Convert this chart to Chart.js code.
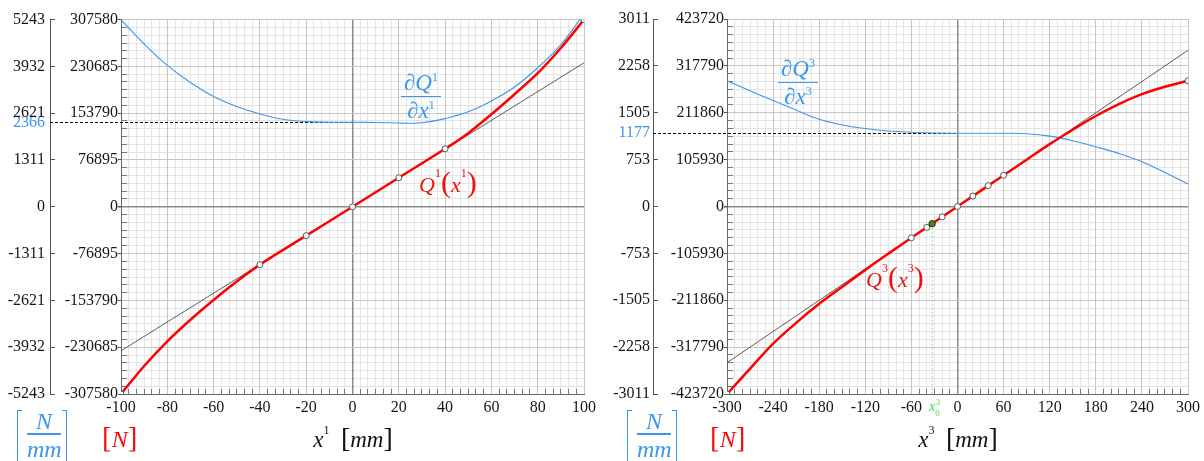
<!DOCTYPE html>
<html>
<head>
<meta charset="utf-8">
<script src="https://cdn.jsdelivr.net/npm/chart.js@4.4.0/dist/chart.umd.min.js"></script>
<style>
  body { margin: 0; background: #fff; }
  #wrap { position: relative; width: 1204px; height: 461px; overflow: hidden; font-family: "Liberation Serif", serif; }
  canvas { position: absolute; top: 0; }
  .t { position: absolute; white-space: nowrap; line-height: 1; }
  .frac { font-size: 23px; font-style: italic; text-align: center; color: #3a96ee; }
  .frac .num { border-bottom: 1.5px solid #3a96ee; padding: 0 3px 2px; }
  .frac .den { padding-top: 2px; }
  .sup { font-size: 12px; font-style: normal; vertical-align: top; }
  .fn { font-size: 22px; font-style: italic; color: #f01010; }
  .par { font-size: 30px; font-style: normal; }
  .brk { position: absolute; width: 4px; height: 62px; border: 1.5px solid #3a96ee; }
  .brk.l { border-right: none; border-bottom: none; }
  .brk.r { border-left: none; border-bottom: none; }
  .unitN { font-size: 24px; font-style: italic; color: #3a96ee; text-align: center; width: 34px; }
  .bar { position: absolute; height: 1.5px; width: 34px; background: #3a96ee; }
  .red { font-size: 24px; color: #f01010; }
  .red i { font-size: 24px; }
  .red .b { font-size: 29px; }
  .ttl { font-size: 23px; color: #111; transform: translateX(-50%); }
  .ttl .b { font-size: 28px; }
  .x0 { font-size: 14px; color: #44dd44; font-style: italic; }
</style>
</head>
<body>
<div id="wrap">
  <canvas id="c1" width="600" height="461" style="left:0"></canvas>
  <canvas id="c3" width="604" height="461" style="left:600px"></canvas>

  <div class="t frac" style="left:401px;top:71px"><div class="num">∂Q<span class="sup">1</span></div><div class="den">∂x<span class="sup">1</span></div></div>
  <div class="t fn" style="left:419px;top:167px">Q<span class="sup">1</span><span class="par">(</span>x<span class="sup">1</span><span class="par">)</span></div>

  <div class="t frac" style="left:778px;top:57px"><div class="num">∂Q<span class="sup">3</span></div><div class="den">∂x<span class="sup">3</span></div></div>
  <div class="t fn" style="left:866px;top:262px">Q<span class="sup">3</span><span class="par">(</span>x<span class="sup">3</span><span class="par">)</span></div>

  <div class="brk l" style="left:17px;top:410px"></div>
  <div class="brk r" style="left:62px;top:410px"></div>
  <div class="t unitN" style="left:27px;top:409px">N</div>
  <div class="bar" style="left:27px;top:433px"></div>
  <div class="t unitN" style="left:27px;top:437px">mm</div>
  <div class="t red" style="left:102px;top:423px"><span class="b">[</span><i>N</i><span class="b">]</span></div>
  <div class="t ttl" style="left:353px;top:424px"><i>x</i><span class="sup">1</span>&nbsp; <span class="b">[</span><i>mm</i><span class="b">]</span></div>

  <div class="brk l" style="left:627px;top:410px"></div>
  <div class="brk r" style="left:672px;top:410px"></div>
  <div class="t unitN" style="left:637px;top:409px">N</div>
  <div class="bar" style="left:637px;top:433px"></div>
  <div class="t unitN" style="left:637px;top:437px">mm</div>
  <div class="t red" style="left:710px;top:423px"><span class="b">[</span><i>N</i><span class="b">]</span></div>
  <div class="t ttl" style="left:958px;top:424px"><i>x</i><span class="sup">3</span>&nbsp; <span class="b">[</span><i>mm</i><span class="b">]</span></div>

  <div class="t x0" style="left:929px;top:400px">x<span style="font-size:9px;font-style:normal;position:relative;top:5px">0</span><span style="font-size:9px;font-style:normal;position:relative;top:-6px;left:-4px">3</span></div>
</div>

<script>
// ---- left panel: Q1(x1) ----
const xTicks1    = [-100, -80, -60, -40, -20, 0, 20, 40, 60, 80, 100];
const yInTicks1  = [-307580, -230685, -153790, -76895, 0, 76895, 153790, 230685, 307580];
const yOutTicks1 = [-5243, -3932, -2621, -1311, 0, 1311, 2621, 3932, 5243];
const slope1 = 2366;

const q1X = [-100, -90, -80, -70, -60, -50, -40, -20, 0, 20, 40, 50, 60, 70, 80, 90, 100];
const q1Y = [-307580, -261500, -221000, -185500, -153000, -122800, -95000, -47400, 0,
             47700, 95300, 121000, 152000, 185000, 219500, 261000, 307580];
const q1Nodes = [-100, -40, -20, 0, 20, 40, 100];

const dq1X = [-100, -90, -80, -70, -60, -50, -40, -30, -20, -10, 0, 10, 20, 25, 30, 40, 50, 60, 70, 80, 90, 100];
const dq1Y = [5243, 4560, 3960, 3480, 3090, 2810, 2600, 2450, 2385, 2370, 2366, 2360, 2345, 2340, 2352,
              2470, 2660, 2965, 3355, 3895, 4545, 5400];

const tan1X = [-100, 100];
const tan1Y = [-236600, 236600];

// ---- right panel: Q3(x3) ----
const xTicks3    = [-300, -240, -180, -120, -60, 0, 60, 120, 180, 240, 300];
const yInTicks3  = [-423720, -317790, -211860, -105930, 0, 105930, 211860, 317790, 423720];
const yOutTicks3 = [-3011, -2258, -1505, -753, 0, 753, 1505, 2258, 3011];
const slope3 = 1177;

const q3X = [-300, -270, -240, -210, -180, -150, -120, -90, -60, -40, -33, -20, 0,
             20, 40, 60, 90, 120, 150, 180, 210, 240, 270, 300];
const q3Y = [-423720, -366500, -310000, -263000, -220000, -181500, -143200, -106500, -70600, -47100, -38800, -23500, 0,
             23500, 47100, 70600, 105800, 141000, 173500, 204500, 231500, 253800, 270500, 284000];
const q3Nodes = [-300, -60, -40, -20, 0, 20, 40, 60, 300];
const x03 = -33;

const dq3X = [-300, -270, -240, -210, -180, -150, -120, -90, -60, -30, 0, 30, 60, 90, 120, 150, 180, 210, 240, 270, 300];
const dq3Y = [2018, 1858, 1702, 1548, 1400, 1310, 1252, 1212, 1192, 1180, 1177, 1177, 1176, 1168,
              1130, 1057, 960, 853, 720, 546, 362];

const tan3X = [-300, 300];
const tan3Y = [-353100, 353100];

const RED = "#ff0000", BLUE = "#3a96ee", TXT = "#161616";
Chart.defaults.font.family = "Liberation Serif";
const FONT = { family: "Liberation Serif", size: 16 };

const pts = (xs, ys) => xs.map((x, i) => ({ x: x, y: ys[i] }));

// dashed slope marker from the outer axis to x = 0
const guidePlugin = {
    id: "guide",
    beforeDatasetsDraw(chart, args, opts) {
        const { ctx, scales } = chart;
        const y = Math.round(scales.yOut.getPixelForValue(opts.slope)) + 0.5;
        ctx.save();
        ctx.setLineDash([3, 2]);
        ctx.strokeStyle = "#000";
        ctx.lineWidth = 1;
        ctx.beginPath();
        ctx.moveTo(scales.yOut.right, y);
        ctx.lineTo(scales.x.getPixelForValue(0), y);
        ctx.stroke();
        ctx.restore();
    }
};

function makeChart(id, d) {
    const xMin = d.xTicks[0], xMax = d.xTicks[d.xTicks.length - 1];
    const yMax = d.yInTicks[d.yInTicks.length - 1];
    const oMax = d.yOutTicks[d.yOutTicks.length - 1];
    const minorColor = c => (c.index % 6 === 0 ? "rgba(0,0,0,0)" : "#e4e4e4");
    const majorColor = c => (c.tick && c.tick.value === 0 ? "#8c8c8c" : "#c6c6c6");
    const majorWidth = c => (c.tick && c.tick.value === 0 ? 1.5 : 1);

    const datasets = (d.extra || []).concat([
        {
            data: d.nodes.map(x => ({ x: x, y: d.qY[d.qX.indexOf(x)] })),
            showLine: false, pointRadius: 3, pointBackgroundColor: "#fff",
            pointBorderColor: "#555", pointBorderWidth: 1
        },
        {
            data: pts(d.qX, d.qY), borderColor: RED, borderWidth: 2.5,
            pointRadius: 0, tension: 0.35
        },
        {
            data: pts(d.dX, d.dY), yAxisID: "yOut", borderColor: BLUE, borderWidth: 1.1,
            pointRadius: 0, tension: 0.4
        },
        {
            data: pts(d.tX, d.tY), borderColor: "#333", borderWidth: 0.8, pointRadius: 0
        }
    ]);
    datasets.forEach(ds => {
        ds.xAxisID = "x";
        if (!ds.yAxisID) ds.yAxisID = "yIn";
    });

    return new Chart(document.getElementById(id), {
        type: "line",
        data: { datasets: datasets },
        plugins: [guidePlugin],
        options: {
            responsive: false,
            animation: false,
            events: [],
            layout: { padding: { top: 19, right: d.padR, bottom: 42, left: 0 } },
            plugins: {
                legend: { display: false },
                tooltip: { enabled: false },
                guide: { slope: d.slope }
            },
            scales: {
                xMinor: {
                    type: "linear", position: "bottom", weight: -1, min: xMin, max: xMax,
                    ticks: { display: false, count: 61 },
                    grid: { color: minorColor, tickLength: -5, tickColor: "#777" },
                    border: { display: false },
                    afterFit: s => { s.height = 0; }
                },
                yMinor: {
                    type: "linear", position: "left", weight: 0, min: -yMax, max: yMax,
                    ticks: { display: false, count: 49 },
                    grid: { color: minorColor, tickLength: -6, tickColor: "#777" },
                    border: { display: false },
                    afterFit: s => { s.width = 0; }
                },
                x: {
                    type: "linear", position: "bottom", weight: 0, min: xMin, max: xMax,
                    afterBuildTicks: s => { s.ticks = d.xTicks.map(v => ({ value: v })); },
                    ticks: { callback: v => String(v), font: FONT, color: TXT, padding: 4, autoSkip: false, maxRotation: 0 },
                    grid: { color: majorColor, lineWidth: majorWidth, drawTicks: false },
                    border: { color: "#666" },
                    afterFit: s => { s.height = 25; }
                },
                yIn: {
                    type: "linear", position: "left", weight: 1, min: -yMax, max: yMax,
                    afterBuildTicks: s => { s.ticks = d.yInTicks.map(v => ({ value: v })); },
                    ticks: { callback: v => String(v), font: FONT, color: TXT, padding: 0, autoSkip: false },
                    grid: { color: majorColor, lineWidth: majorWidth, tickLength: 3, tickColor: "#555" },
                    border: { color: "#666" },
                    afterFit: s => { s.width = d.inW; }
                },
                yOut: {
                    type: "linear", position: "left", weight: 2, min: -oMax, max: oMax,
                    afterBuildTicks: s => {
                        s.ticks = d.yOutTicks.concat([d.slope]).sort((a, b) => a - b).map(v => ({ value: v }));
                    },
                    ticks: {
                        callback: v => String(v), font: FONT, padding: d.outPad, autoSkip: false,
                        color: c => (c.tick && c.tick.value === d.slope ? BLUE : TXT)
                    },
                    grid: {
                        drawOnChartArea: false, tickLength: -5,
                        tickColor: c => (c.tick && c.tick.value === d.slope ? "rgba(0,0,0,0)" : "#555")
                    },
                    border: { color: "#555" },
                    afterFit: s => { s.width = d.outW; }
                }
            }
        }
    });
}

makeChart("c1", {
    xTicks: xTicks1, yInTicks: yInTicks1, yOutTicks: yOutTicks1, slope: slope1,
    qX: q1X, qY: q1Y, nodes: q1Nodes, dX: dq1X, dY: dq1Y, tX: tan1X, tY: tan1Y,
    outW: 50, inW: 71, padR: 13, outPad: 10
});

const x03Y = q3Y[q3X.indexOf(x03)];
makeChart("c3", {
    xTicks: xTicks3, yInTicks: yInTicks3, yOutTicks: yOutTicks3, slope: slope3,
    qX: q3X, qY: q3Y, nodes: q3Nodes, dX: dq3X, dY: dq3Y, tX: tan3X, tY: tan3Y,
    outW: 53, inW: 74, padR: 14, outPad: 8,
    extra: [
        {
            data: [{ x: x03, y: x03Y }], showLine: false, pointRadius: 3.2,
            pointBackgroundColor: "#3f8a1c", pointBorderColor: "#2a2a2a", pointBorderWidth: 1
        },
        {
            data: [{ x: x03, y: x03Y }, { x: x03, y: yInTicks3[0] }], borderColor: "#7ee07e",
            borderWidth: 1, borderDash: [2, 2], pointRadius: 0
        }
    ]
});
</script>
</body>
</html>
